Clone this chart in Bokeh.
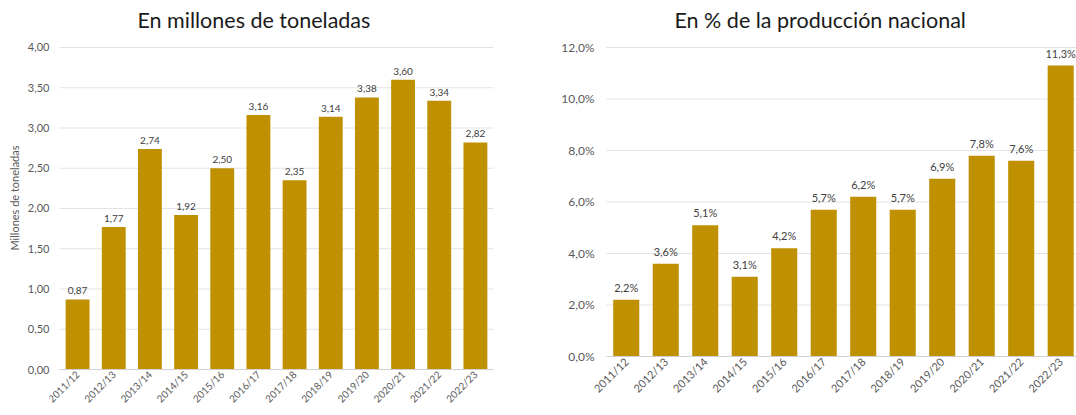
import math
from bokeh.plotting import figure
from bokeh.models import ColumnDataSource, Range1d, FixedTicker, CustomJSTickFormatter, Title
from bokeh.layouts import row
from bokeh.embed import file_html
from bokeh.resources import INLINE
from bokeh.core.properties import value

# ---- data ----
campaigns = ["2011/12", "2012/13", "2013/14", "2014/15", "2015/16", "2016/17",
             "2017/18", "2018/19", "2019/20", "2020/21", "2021/22", "2022/23"]
tonnes_mt = [0.87, 1.77, 2.74, 1.92, 2.50, 3.16, 2.35, 3.14, 3.38, 3.60, 3.34, 2.82]
share_pct = [2.2, 3.6, 5.1, 3.1, 4.2, 5.7, 6.2, 5.7, 6.9, 7.8, 7.6, 11.3]
left_title = "En millones de toneladas"
right_title = "En % de la producción nacional"
left_ylabel = "Millones de toneladas"
left_ticks = [0.0, 0.5, 1.0, 1.5, 2.0, 2.5, 3.0, 3.5, 4.0]
right_ticks = [0, 2, 4, 6, 8, 10, 12]

FONT = "Lato"
BAR = "#BF9000"
GRID = "#e3e3e3"
AXIS = "#d0d0d0"
TICK = "#595959"
LBL = "#404040"
H = 415
TOP = 36      # frame top (px); frame runs to the bottom of the figure
N = len(campaigns)
X0, X1 = -0.5, N - 0.5   # category extent (plot area)


def base_fig(width, title, x_start, x_end, y_start, y_end, ticks, fmt_code,
             mb_left, mb_right, title_offset, tick_fs, xlab_fs):
    p = figure(width=width, height=H, output_backend="svg", toolbar_location=None,
               x_range=Range1d(x_start, x_end), y_range=Range1d(y_start, y_end),
               min_border_left=mb_left, min_border_right=mb_right,
               min_border_top=TOP, min_border_bottom=0, title=title)
    p.outline_line_color = None
    p.background_fill_color = "white"
    p.border_fill_color = "white"
    p.title.text_font = FONT
    p.title.text_font_style = "normal"
    p.title.text_font_size = "21.5px"
    p.title.text_color = "#1a1a1a"
    p.title.align = "left"
    p.title.offset = title_offset
    p.title.standoff = 8

    p.xgrid.grid_line_color = None
    p.ygrid.grid_line_color = None
    # horizontal gridlines limited to the category area
    gsrc = ColumnDataSource(dict(y=ticks, x0=[X0] * len(ticks), x1=[X1] * len(ticks)))
    p.segment(x0="x0", y0="y", x1="x1", y1="y", source=gsrc,
              line_color=GRID, line_width=1)

    xa = p.xaxis[0]
    xa.fixed_location = 0
    xa.bounds = (X0, X1)
    xa.ticker = FixedTicker(ticks=list(range(N)))
    xa.formatter = CustomJSTickFormatter(args=dict(labels=campaigns),
                                         code="return labels[Math.round(tick)] || '';")
    xa.major_label_orientation = math.pi / 4
    xa.axis_line_color = AXIS
    xa.major_tick_line_color = None
    xa.minor_tick_line_color = None
    xa.major_tick_out = 0
    xa.major_tick_in = 0
    xa.minor_tick_out = 0
    xa.major_label_text_font = FONT
    xa.major_label_text_font_size = xlab_fs
    xa.major_label_text_color = TICK
    xa.major_label_standoff = 3

    ya = p.yaxis[0]
    ya.ticker = FixedTicker(ticks=ticks)
    ya.formatter = CustomJSTickFormatter(code=fmt_code)
    ya.axis_line_color = None
    ya.major_tick_line_color = None
    ya.minor_tick_line_color = None
    ya.major_tick_out = 0
    ya.major_tick_in = 0
    ya.minor_tick_out = 0
    ya.major_label_text_font = FONT
    ya.major_label_text_font_size = tick_fs
    ya.major_label_text_color = TICK
    ya.major_label_standoff = 0
    return p


# ---- left chart ----  (frame 49..493 px; 0 -> 369 px, 4.0 -> 47 px)
p1 = base_fig(545, left_title, -0.7765, 11.5, -0.5714, 4.1366, left_ticks,
              "return tick.toFixed(2).replace('.', ',');",
              49, 52, 88, "11px", "10px")
ylab = Title(text=left_ylabel, align="right", offset=109, standoff=8,
             text_font=FONT, text_font_style="normal", text_font_size="11px",
             text_color=TICK)
p1.add_layout(ylab, "left")

src1 = ColumnDataSource(dict(
    x=list(range(N)), y=tonnes_mt,
    lbl=[f"{v:.2f}".replace(".", ",") for v in tonnes_mt]))
p1.vbar(x="x", top="y", bottom=0, width=0.66, source=src1, fill_color=BAR, line_color=None)
p1.text(x="x", y="y", text="lbl", source=src1, text_align="center",
        text_baseline="bottom", y_offset=-5, text_font_size="10px",
        text_color=LBL, text_font=value(FONT))

# ---- right chart ----  (frame 594..1076 px; 0 -> 356 px, 12 -> 47 px)
p2 = base_fig(531, right_title, -0.8038, 11.40, -2.2913, 12.427, right_ticks,
              "return tick.toFixed(1).replace('.', ',') + '%';",
              49, 0, 80, "12px", "11px")
src2 = ColumnDataSource(dict(
    x=list(range(N)), y=share_pct,
    lbl=[f"{v:.1f}".replace(".", ",") + "%" for v in share_pct]))
p2.vbar(x="x", top="y", bottom=0, width=0.66, source=src2, fill_color=BAR, line_color=None)
p2.text(x="x", y="y", text="lbl", source=src2, text_align="center",
        text_baseline="bottom", y_offset=-6, text_font_size="11px",
        text_color=LBL, text_font=value(FONT))

layout = row(p1, p2)
open("out.html", "w").write(file_html(layout, INLINE))
